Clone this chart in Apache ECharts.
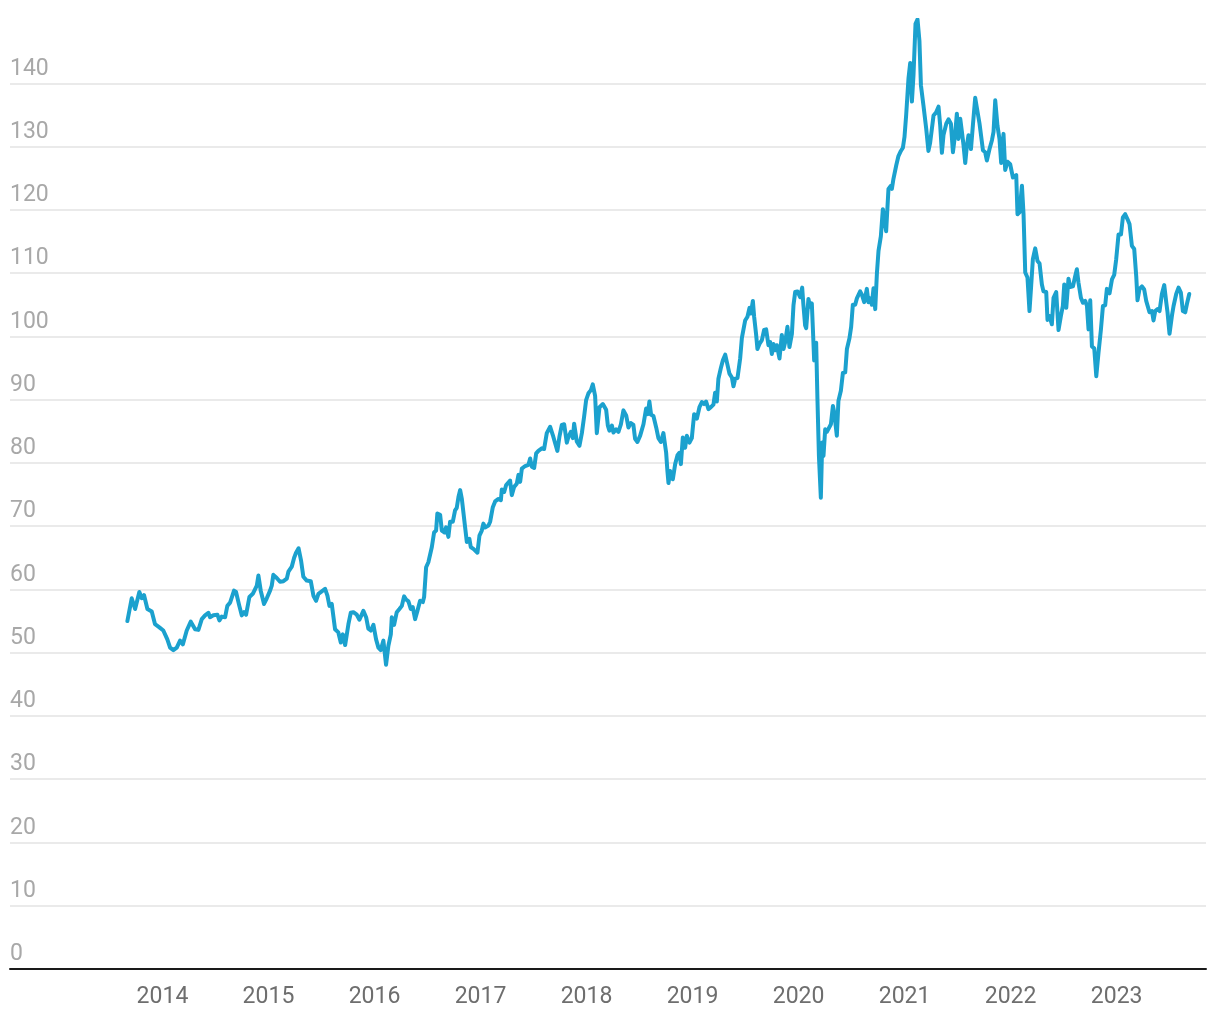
<!DOCTYPE html>
<html>
<head>
<meta charset="utf-8">
<script src="https://cdn.jsdelivr.net/npm/echarts@6/dist/echarts.min.js"></script>
<style>
  html, body { margin: 0; padding: 0; background: #ffffff; }
  #chart { width: 1220px; height: 1020px; }
</style>
</head>
<body>
<div id="chart"></div>
<script>
// Time positions in decimal years
const years = [
2013.669,2013.710,2013.742,2013.782,2013.805,2013.826,2013.858,2013.899,2013.930,2013.971,
2014.008,2014.025,2014.046,2014.072,2014.103,2014.135,2014.166,2014.192,2014.229,2014.267,
2014.308,2014.339,2014.371,2014.402,2014.433,2014.449,2014.480,2014.518,2014.537,2014.559,
2014.591,2014.612,2014.638,2014.675,2014.694,2014.725,2014.748,2014.770,2014.789,2014.820,
2014.852,2014.890,2014.905,2014.927,2014.958,2014.984,2015.015,2015.031,2015.046,2015.078,
2015.109,2015.141,2015.173,2015.188,2015.204,2015.220,2015.242,2015.260,2015.284,2015.308,
2015.329,2015.361,2015.399,2015.424,2015.449,2015.471,2015.503,2015.534,2015.556,2015.575,
2015.597,2015.628,2015.659,2015.682,2015.701,2015.723,2015.754,2015.776,2015.801,2015.833,
2015.858,2015.895,2015.921,2015.942,2015.965,2015.990,2016.015,2016.037,2016.059,2016.084,
2016.109,2016.131,2016.154,2016.163,2016.185,2016.210,2016.235,2016.258,2016.279,2016.298,
2016.320,2016.342,2016.361,2016.383,2016.405,2016.430,2016.456,2016.468,2016.487,2016.508,
2016.541,2016.562,2016.581,2016.593,2016.619,2016.635,2016.659,2016.675,2016.697,2016.713,
2016.739,2016.760,2016.776,2016.792,2016.808,2016.824,2016.855,2016.871,2016.895,2016.908,
2016.933,2016.971,2016.990,2017.012,2017.027,2017.043,2017.075,2017.091,2017.116,2017.138,
2017.169,2017.192,2017.201,2017.223,2017.242,2017.254,2017.279,2017.295,2017.317,2017.342,
2017.358,2017.374,2017.390,2017.421,2017.452,2017.468,2017.484,2017.506,2017.525,2017.546,
2017.578,2017.600,2017.625,2017.657,2017.682,2017.704,2017.725,2017.744,2017.767,2017.789,
2017.814,2017.829,2017.852,2017.871,2017.883,2017.908,2017.933,2017.956,2017.977,2017.996,
2018.018,2018.041,2018.059,2018.081,2018.097,2018.122,2018.154,2018.185,2018.201,2018.216,
2018.239,2018.254,2018.279,2018.301,2018.324,2018.348,2018.374,2018.395,2018.418,2018.442,
2018.458,2018.480,2018.506,2018.537,2018.562,2018.578,2018.593,2018.609,2018.631,2018.657,
2018.678,2018.701,2018.725,2018.751,2018.763,2018.773,2018.789,2018.814,2018.836,2018.858,
2018.876,2018.890,2018.908,2018.930,2018.946,2018.971,2018.993,2019.015,2019.041,2019.065,
2019.088,2019.109,2019.128,2019.150,2019.173,2019.197,2019.213,2019.229,2019.244,2019.267,
2019.286,2019.308,2019.324,2019.348,2019.371,2019.386,2019.402,2019.424,2019.449,2019.465,
2019.480,2019.496,2019.518,2019.537,2019.550,2019.569,2019.581,2019.600,2019.612,2019.631,
2019.654,2019.675,2019.694,2019.716,2019.732,2019.748,2019.763,2019.779,2019.795,2019.820,
2019.842,2019.858,2019.874,2019.895,2019.914,2019.937,2019.952,2019.968,2019.990,2020.015,
2020.034,2020.046,2020.062,2020.072,2020.093,2020.109,2020.125,2020.135,2020.147,2020.166,
2020.178,2020.192,2020.210,2020.223,2020.235,2020.251,2020.267,2020.282,2020.305,2020.324,
2020.336,2020.361,2020.376,2020.399,2020.418,2020.440,2020.456,2020.480,2020.496,2020.512,
2020.534,2020.550,2020.565,2020.581,2020.597,2020.619,2020.644,2020.659,2020.675,2020.691,
2020.707,2020.723,2020.739,2020.754,2020.776,2020.795,2020.808,2020.826,2020.848,2020.871,
2020.880,2020.895,2020.921,2020.942,2020.965,2020.984,2020.999,2021.015,2021.037,2021.053,
2021.069,2021.084,2021.103,2021.122,2021.140,2021.154,2021.178,2021.204,2021.225,2021.241,
2021.273,2021.298,2021.320,2021.336,2021.352,2021.367,2021.393,2021.414,2021.437,2021.456,
2021.477,2021.493,2021.508,2021.525,2021.541,2021.556,2021.572,2021.588,2021.603,2021.626,
2021.644,2021.666,2021.688,2021.707,2021.720,2021.739,2021.760,2021.776,2021.801,2021.824,
2021.839,2021.855,2021.876,2021.895,2021.911,2021.933,2021.949,2021.971,2021.996,2022.022,
2022.034,2022.053,2022.065,2022.084,2022.107,2022.122,2022.138,2022.159,2022.178,2022.194,
2022.210,2022.232,2022.254,2022.273,2022.295,2022.310,2022.336,2022.348,2022.367,2022.389,
2022.405,2022.430,2022.452,2022.474,2022.493,2022.506,2022.525,2022.546,2022.562,2022.588,
2022.609,2022.625,2022.640,2022.663,2022.682,2022.704,2022.720,2022.735,2022.751,2022.767,
2022.789,2022.808,2022.829,2022.852,2022.871,2022.892,2022.908,2022.933,2022.956,2022.977,
2022.996,2023.018,2023.041,2023.059,2023.081,2023.103,2023.122,2023.144,2023.166,2023.185,
2023.197,2023.216,2023.239,2023.260,2023.279,2023.310,2023.333,2023.348,2023.364,2023.386,
2023.405,2023.427,2023.449,2023.468,2023.480,2023.499,2023.522,2023.537,2023.562,2023.584,
2023.606,2023.625,2023.647,2023.663,2023.685
];

// Series values
const values = [
55.0,58.6,56.9,59.6,58.6,59.1,56.9,56.5,54.5,54.0,
53.5,53.8,52.1,50.8,50.4,50.8,51.9,51.3,53.5,54.9,
53.7,53.6,55.3,55.9,56.3,55.6,55.9,56.0,55.1,55.7,
55.6,57.4,57.9,59.8,59.6,57.4,55.9,56.4,56.0,58.8,
59.3,60.6,62.2,59.8,57.7,58.6,59.8,60.6,62.3,61.8,
61.2,61.3,61.7,62.8,62.5,63.6,65.0,65.8,66.5,64.5,
62.0,61.4,61.3,59.0,58.2,59.3,59.7,60.1,59.0,57.4,
57.7,53.7,53.2,51.6,52.9,51.2,54.5,56.3,56.4,56.0,
55.2,56.6,55.6,53.8,53.5,54.4,52.1,50.8,50.4,51.9,
48.1,51.1,52.9,55.6,54.4,56.4,56.9,57.4,58.9,58.4,
58.1,56.9,57.2,55.3,56.6,58.2,58.0,58.8,63.5,64.3,
66.7,69.0,69.3,72.0,71.8,69.3,69.0,69.8,68.3,70.7,
70.7,72.5,72.9,74.6,75.7,74.3,69.8,67.5,68.0,66.7,
66.4,65.8,68.5,69.3,70.4,69.8,70.1,70.7,73.0,73.9,
74.3,74.1,75.8,75.4,76.5,76.3,77.2,74.9,76.2,76.7,
78.1,77.0,79.1,79.5,79.7,80.7,79.4,79.2,81.5,81.9,
82.3,82.2,84.7,85.7,84.4,83.1,81.9,84.1,86.0,86.1,
83.2,84.1,84.9,83.9,86.2,83.4,82.7,84.7,87.3,89.9,
91.0,91.5,92.4,90.6,84.7,88.8,89.3,88.4,85.9,85.1,
85.9,84.8,85.3,84.9,86.1,88.3,87.5,85.6,86.3,86.0,
83.8,83.3,84.3,86.1,88.6,87.7,89.7,87.6,87.4,85.6,
83.9,83.3,84.7,81.6,78.7,76.8,78.7,77.4,79.8,81.2,
81.6,79.8,84.0,82.4,84.3,83.2,83.9,87.7,87.0,88.8,
89.6,89.3,89.7,88.5,88.8,89.2,91.1,89.7,93.3,95.0,
96.2,97.1,97.0,94.1,93.5,92.1,93.3,93.4,96.5,99.7,
99.6,102.5,103.1,104.5,103.6,105.6,103.1,100.2,98.0,98.8,
99.4,101.0,101.1,98.6,99.1,97.2,98.8,97.8,98.6,96.5,
100.2,98.0,99.1,101.5,98.3,100.4,104.9,107.0,107.1,106.2,
107.7,104.9,101.7,101.3,105.9,104.7,105.2,101.2,96.2,99.0,
90.1,81.1,74.5,83.2,81.1,85.3,84.9,84.8,86.1,89.0,
88.0,84.3,89.8,91.4,94.2,94.3,98.0,99.7,101.5,105.0,
105.0,106.0,105.7,107.1,106.6,105.4,107.5,105.4,106.0,105.0,
107.6,104.3,110.0,113.5,115.8,120.1,120.3,116.6,123.3,123.8,
123.3,124.9,127.0,128.5,129.3,129.8,131.5,135.0,140.8,143.2,
137.1,141.3,149.4,150.1,146.7,139.7,136.5,132.8,129.3,130.6,
134.9,135.4,136.3,133.3,129.0,131.8,133.6,134.3,133.6,129.1,
132.0,135.2,131.2,134.4,132.3,130.2,127.4,130.2,131.8,129.6,
133.3,137.7,135.5,133.6,133.3,129.4,129.1,127.8,129.6,131.0,
132.3,137.3,133.3,131.2,127.4,132.0,126.3,127.6,127.2,125.1,
124.8,125.5,119.3,119.6,123.8,119.3,110.1,109.3,104.0,108.0,
112.2,113.9,111.9,111.5,108.2,107.1,107.0,102.6,103.2,101.9,
106.1,107.0,101.0,103.2,104.8,108.2,104.5,109.1,107.8,107.9,
109.5,110.6,108.5,106.1,105.3,105.6,104.8,101.1,105.7,98.4,
98.1,93.7,97.4,101.1,104.8,104.9,107.5,106.8,109.0,109.7,
112.2,116.1,116.1,118.8,119.3,118.5,117.7,114.3,113.8,109.5,
105.7,107.5,107.9,107.4,105.6,103.8,104.0,102.5,104.0,104.3,
104.0,106.7,108.1,105.4,103.8,100.4,103.3,104.8,106.7,107.7,
106.9,104.0,103.8,105.1,106.7
];

// Tick labels
const yearTicks = [2014, 2015, 2016, 2017, 2018, 2019, 2020, 2021, 2022, 2023];
const yTicks = [0, 10, 20, 30, 40, 50, 60, 70, 80, 90, 100, 110, 120, 130, 140];

const seriesData = years.map((y, i) => [y, values[i]]);

const chart = echarts.init(document.getElementById('chart'), null, { renderer: 'canvas' });
chart.setOption({
  animation: false,
  backgroundColor: '#ffffff',
  textStyle: { fontFamily: 'Roboto' },
  grid: { left: 10, right: 14, top: 20, bottom: 51, containLabel: false, outerBoundsMode: 'none' },
  xAxis: {
    type: 'value',
    min: 2012.562,
    max: 2023.843,
    axisLine: { show: true, lineStyle: { color: '#1a1a1a', width: 2 } },
    axisTick: { show: false },
    splitLine: { show: false },
    axisLabel: {
      customValues: yearTicks,
      formatter: v => String(v),
      color: '#6e6e6e',
      fontSize: 23,
      fontFamily: 'Roboto',
      margin: 17
    }
  },
  yAxis: {
    type: 'value',
    min: 0,
    max: 150,
    interval: 10,
    axisLine: { show: false },
    axisTick: { show: false },
    splitLine: { show: true, showMaxLine: false, showMinLine: false, lineStyle: { color: '#e3e3e3', width: 1.5 } },
    axisLabel: {
      inside: true,
      margin: 0,
      customValues: yTicks,
      formatter: v => String(v),
      color: '#a8a8a8',
      fontSize: 23,
      fontFamily: 'Roboto',
      verticalAlign: 'bottom',
      lineHeight: 23,
      padding: [0, 0, 3, 0]
    }
  },
  series: [{
    type: 'line',
    data: seriesData,
    showSymbol: false,
    symbol: 'none',
    smooth: false,
    lineStyle: { color: '#1ba1ce', width: 4, join: 'round', cap: 'round' },
    z: 3
  }]
});
</script>
</body>
</html>
